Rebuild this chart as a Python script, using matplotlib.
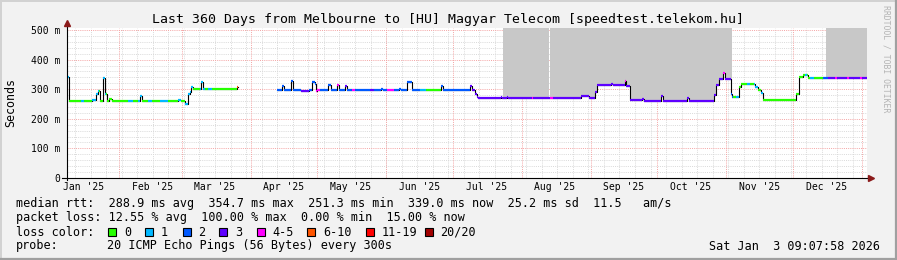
import matplotlib
matplotlib.use("Agg")
import matplotlib.pyplot as plt
import numpy as np
import pandas as pd

# window: 360 days ending Sat Jan 3 09:07:58 2026, x in days since start
start = pd.Timestamp("2025-01-08 09:07:58")
span_days = 360

# median rtt (ms), step starts in days
rtt_days = [0, 1.0, 7.0, 7.4, 11.25, 13.0, 14.0, 14.7, 16.2, 17.2, 18.0, 18.8, 20.25,
            33.0, 33.75, 50.0, 51.4, 53.1, 54.6, 55.2, 55.9, 56.7, 60.4, 61.3, 76.6, 77.1,
            94.5, 96.75, 97.65, 100.9, 101.9, 105.2, 108.9, 110.4, 111.5, 112.2, 112.5,
            117.6, 118.7, 121.4, 122.3, 125.1, 126.1, 141.3, 142.0, 149.4, 150.1, 153.1,
            155.1, 168.3, 169.3, 181.4, 182.4, 183.6, 184.4, 185.1, 195.2, 195.6, 197.9,
            198.3, 231.3, 235.0, 237.6, 238.4, 244.8, 245.7, 251.1, 251.6, 253.4, 258.8,
            259.5, 267.4, 268.1, 279.0, 279.8, 291.0, 292.0, 293.5, 295.2, 296.2, 298.6,
            299.25, 302.3, 303.4, 309.7, 311.0, 312.4, 313.2, 323.55, 324.0, 328.2, 329.2,
            331.2, 333.5, 335.0]
rtt_ms = [341, 260, 265, 260, 264, 285, 293, 260, 338, 285, 260, 266, 260,
          276, 260, 265, 260, 251, 283, 291, 307, 302, 324, 302, 306, np.nan,
          297, 310, 297, 327, 298, 294, 298, 324, 319, 294, 297,
          315, 297, 313, 297, 311, 297, 300, 297, 301, 297, 324,
          298, 310, 298, 310, 298, 285, 274, 271, 274, 271, 274,
          271, 276, 271, 290, 313, 317, 313, 327, 311, 262, 266,
          261, 276, 261, 270, 261, 279, 313, 336, 355, 333, 285,
          272, 307, 317, 307, 298, 288, 262, 264, 262, 283, 340,
          349, 337, 339]

# loss band per run (index into band_labels)
loss_days = [0, 1.0, 2.25, 6.3, 7.6, 11.25, 14.4, 16.2, 17.5, 27.5, 29.7, 32.0, 33.75,
             36.5, 38.25, 41.9, 45.5, 50.0, 51.4, 53.1, 56.7, 59.9, 62.1, 63.45, 65.25,
             76.6, 94.5, 105.2, 108.9, 112.2, 113.9, 121.4, 122.3, 125.1, 126.1, 128.25,
             129.6, 136.5, 138.0, 144.0, 147.0, 158.85, 161.55, 168.3, 181.4, 209.2,
             209.7, 217.5, 218.5, 251.1, 251.6, 295.2, 296.2, 298.6, 299.6, 300.9, 302.3,
             306.0, 307.5, 309.0, 311.0, 312.4, 313.2, 331.9, 333.0, 334.5, 336.0, 340.0,
             342.5, 345.6, 346.5, 351.2, 352.0, 356.9, 357.8]
loss_band = [1, 0, 0, 1, 0, 1, 0, 1, 0, 1, 0, 1, 0,
             1, 0, 1, 0, 1, 0, 1, 0, 1, 0, 1, 0,
             5, 2, 3, 2, 4, 2, 4, 2, 3, 2, 4,
             2, 3, 2, 4, 2, 1, 0, 2, 3, 4,
             3, 4, 3, 4, 3, 4, 3, 2, 0, 1, 0,
             1, 0, 1, 0, 1, 0, 1, 0, 1, 0, 2,
             3, 4, 3, 4, 3, 4, 3]

# periods with smoke (spread of pings beyond the top of the chart)
smoke_start = [196.1, 217.35, 341.5]
smoke_end = [216.9, 299.1, 360]

band_labels = ["0", "1", "2", "3", "4-5", "6-10", "11-19", "20/20"]
band_colors = ["#26ff00", "#00b8ff", "#0059ff", "#5e00ff", "#ff00ff",
               "#ff5500", "#ff0000", "#a10000"]

y_ticks = [0, 100, 200, 300, 400, 500]
y_tick_labels = ["0", "100 m", "200 m", "300 m", "400 m", "500 m"]

title = "Last 360 Days from Melbourne to [HU] Magyar Telecom [speedtest.telekom.hu]"
stat_lines = [
    "median rtt:  288.9 ms avg  354.7 ms max  251.3 ms min  339.0 ms now  25.2 ms sd  11.5   am/s",
    "packet loss: 12.55 % avg  100.00 % max  0.00 % min  15.00 % now",
]
probe_text = "20 ICMP Echo Pings (56 Bytes) every 300s"
stamp = "Sat Jan  3 09:07:58 2026"

MONO = "DejaVu Sans Mono"
W, H = 897, 260
L, R, T, B = 67, 867, 28, 178


def fx(x):
    return x / W


def fy(y):
    return 1 - y / H


fig = plt.figure(figsize=(W / 100, H / 100), dpi=100, facecolor="#f2f2f2")
ax = fig.add_axes([fx(L), fy(B), (R - L) / W, (B - T) / H])
ax.set_facecolor("white")
ymax = 150 / 0.296
ax.set_xlim(0, span_days)
ax.set_ylim(0, ymax)
for s in ax.spines.values():
    s.set_visible(False)


def day_of(ts):
    return (ts - start) / pd.Timedelta(days=1)


# grid
for v in range(20, 501, 20):
    if v % 100:
        ax.axhline(v, color="#d9d9d9", lw=0.7, ls=(0, (1, 1.2)), zorder=1)
sundays = pd.date_range(start.normalize(), start + pd.Timedelta(days=span_days), freq="W-SUN")
for d in sundays:
    ax.axvline(day_of(d), color="#d9d9d9", lw=0.7, ls=(0, (1, 1.2)), zorder=1)
for v in range(100, 501, 100):
    ax.axhline(v, color="#f4a4a4", lw=0.7, ls=(0, (1, 1.2)), zorder=1.5)
month_starts = pd.date_range("2025-01-01", "2026-01-01", freq="MS")
for d in month_starts:
    x = day_of(d)
    if 0 < x < span_days:
        ax.axvline(x, color="#f4a4a4", lw=0.7, ls=(0, (1, 1.2)), zorder=1.5)

# smoke
edges = np.array(rtt_days + [span_days])
vals = np.array(rtt_ms, dtype=float)
for s, e in zip(smoke_start, smoke_end):
    i0 = np.searchsorted(edges, s, side="right") - 1
    i1 = np.searchsorted(edges, e, side="left")
    xs = [s] + list(edges[i0 + 1:i1]) + [e]
    ys = list(vals[i0:i1]) + [vals[i1 - 1]]
    ax.fill_between(xs, ys, ymax, step="post", color="#c8c8c8", lw=0, zorder=2)

# median line (black) with loss-coloured pieces on top
ax.plot(edges, list(vals) + [vals[-1]], drawstyle="steps-post", color="black",
        lw=0.8, zorder=3)
ledges = loss_days + [span_days]
for i in range(len(rtt_ms)):
    if np.isnan(vals[i]):
        continue
    a, b = edges[i], edges[i + 1]
    for j in range(len(loss_band)):
        lo, hi = max(a, ledges[j]), min(b, ledges[j + 1])
        if hi > lo:
            ax.hlines(vals[i], lo, hi, colors=band_colors[loss_band[j]], lw=1.6, zorder=4)

# axes with arrows
ax.plot([0, 0], [-0.01, 1.03], transform=ax.transAxes, color="black", lw=0.8, clip_on=False, zorder=5)
ax.plot([-0.006, 1.003], [0, 0], transform=ax.transAxes, color="black", lw=0.8, clip_on=False, zorder=5)
ax.plot(0, 1.035, marker="^", ms=4.5, color="#8b1a1a", transform=ax.transAxes, clip_on=False, zorder=6)
ax.plot(1.005, 0, marker=">", ms=4.5, color="#8b1a1a", transform=ax.transAxes, clip_on=False, zorder=6)

# ticks
ax.set_yticks(y_ticks, y_tick_labels, fontfamily=MONO, fontsize=7)
label_pos = [day_of(d + pd.Timedelta(days=15)) for d in month_starts[:-1]]
label_txt = [d.strftime("%b '%y") for d in month_starts[:-1]]
ax.set_xticks(label_pos, label_txt, fontfamily=MONO, fontsize=7)
ax.tick_params(axis="y", length=0, pad=5)
ax.tick_params(axis="x", length=0, pad=3)

# texts
fig.text(fx(448), fy(19), title, ha="center", va="center", fontfamily=MONO, fontsize=9.5)
fig.text(fx(11), fy(103), "Seconds", rotation=90, ha="center", va="center",
         fontfamily=MONO, fontsize=8.4)
fig.text(fx(886), fy(5), "RRDTOOL / TOBI OETIKER", rotation=270, ha="center", va="top",
         fontfamily=MONO, fontsize=5.9, color="#b4b4b4")
for k, line in enumerate(stat_lines):
    fig.text(fx(16), fy(204 + 14 * k), line, ha="left", va="center", fontfamily=MONO, fontsize=8.45)
fig.text(fx(16), fy(232), "loss color:", ha="left", va="center", fontfamily=MONO, fontsize=8.45)
box_x = [108.3, 145.3, 182.7, 219.3, 256.7, 307.3, 366, 425]
for bx, lab, col in zip(box_x, band_labels, band_colors):
    fig.patches.append(plt.Rectangle((fx(bx), fy(236)), 8 / W, 8 / H, transform=fig.transFigure,
                                     facecolor=col, edgecolor="black", lw=0.8))
    fig.text(fx(bx + 15.5), fy(232), lab, ha="left", va="center", fontfamily=MONO, fontsize=8.45)
fig.text(fx(16), fy(246), "probe:", ha="left", va="center", fontfamily=MONO, fontsize=8.45)
fig.text(fx(107.3), fy(246), probe_text, ha="left", va="center", fontfamily=MONO, fontsize=8.45)
fig.text(fx(880), fy(246), stamp, ha="right", va="center", fontfamily=MONO, fontsize=8.45)

# frame
fig.add_artist(plt.Line2D([0, 1], [fy(0.5), fy(0.5)], color="#d2d2d2", lw=1.4))
fig.add_artist(plt.Line2D([fx(0.5), fx(0.5)], [0, 1], color="#d2d2d2", lw=1.4))
fig.add_artist(plt.Line2D([0, 1], [fy(258.5), fy(258.5)], color="#a0a0a0", lw=1.6))
fig.add_artist(plt.Line2D([fx(895.5), fx(895.5)], [0, 1], color="#a0a0a0", lw=1.6))

fig.savefig("out.png", dpi=100, facecolor=fig.get_facecolor())
